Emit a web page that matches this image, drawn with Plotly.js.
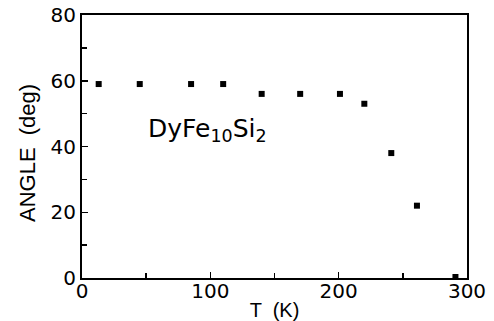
<!DOCTYPE html>
<html>
<head>
<meta charset="utf-8">
<script src="https://cdn.plot.ly/plotly-3.0.1.min.js"></script>
<style>html,body{margin:0;padding:0;background:#fff;}#chart{width:494px;height:321px;}</style>
</head>
<body>
<div id="chart"></div>
<script>
const temperatureK = [13, 45, 85, 110, 140, 170, 201, 220, 241, 261, 291];
const angleDeg = [59, 59, 59, 59, 56, 56, 56, 53, 38, 22, 0.3];
const xTickVals = [0, 100, 200, 300];
const yTickVals = [0, 20, 40, 60, 80];
const compoundLabel = 'DyFe<sub>10</sub>Si<sub>2</sub>';

const font = {family: 'Liberation Sans, Arial, sans-serif', color: '#000'};
const tickFamily = 'DejaVu Sans, sans-serif';

const trace = {
  x: temperatureK, y: angleDeg, type: 'scatter', mode: 'markers',
  marker: {symbol: 'square', size: 6, color: '#000'},
  cliponaxis: false, hoverinfo: 'skip'
};

const layout = {
  width: 494, height: 321,
  margin: {l: 82, r: 27, t: 15, b: 43},
  paper_bgcolor: '#fff', plot_bgcolor: '#fff',
  showlegend: false,
  font: font,
  xaxis: {
    range: [0, 300], tickvals: xTickVals, ticks: 'inside', ticklen: 6, tickwidth: 1.5,
    minor: {dtick: 50, ticks: 'inside', ticklen: 5, tickwidth: 1.5, tickcolor: '#000'},
    tickcolor: '#000', showline: true, linecolor: '#000', linewidth: 2, mirror: true,
    showgrid: false, zeroline: false, ticklabelstandoff: -6,
    tickfont: {family: tickFamily, size: 20, color: '#000'},
    title: {text: 'T  (K)', font: {family: font.family, size: 20, color: '#000'}, standoff: 4}
  },
  yaxis: {
    range: [0, 80], tickvals: yTickVals, ticks: 'inside', ticklen: 6, tickwidth: 1.5,
    minor: {dtick: 10, ticks: 'inside', ticklen: 5, tickwidth: 1.5, tickcolor: '#000'},
    tickcolor: '#000', showline: true, linecolor: '#000', linewidth: 2, mirror: true,
    showgrid: false, zeroline: false,
    tickfont: {family: tickFamily, size: 20, color: '#000'}
  },
  annotations: [
    {text: compoundLabel, xref: 'x', yref: 'y', x: 50, y: 45, xanchor: 'left', yanchor: 'middle',
     showarrow: false, font: {family: tickFamily, size: 25, color: '#000'}},
    {text: 'ANGLE  (deg)', xref: 'paper', yref: 'paper', x: -0.143, y: 0.475, xanchor: 'center', yanchor: 'middle',
     textangle: -90, showarrow: false, font: {family: font.family, size: 22, color: '#000'}}
  ]
};

Plotly.newPlot('chart', [trace], layout, {staticPlot: true, displayModeBar: false});
</script>
</body>
</html>
